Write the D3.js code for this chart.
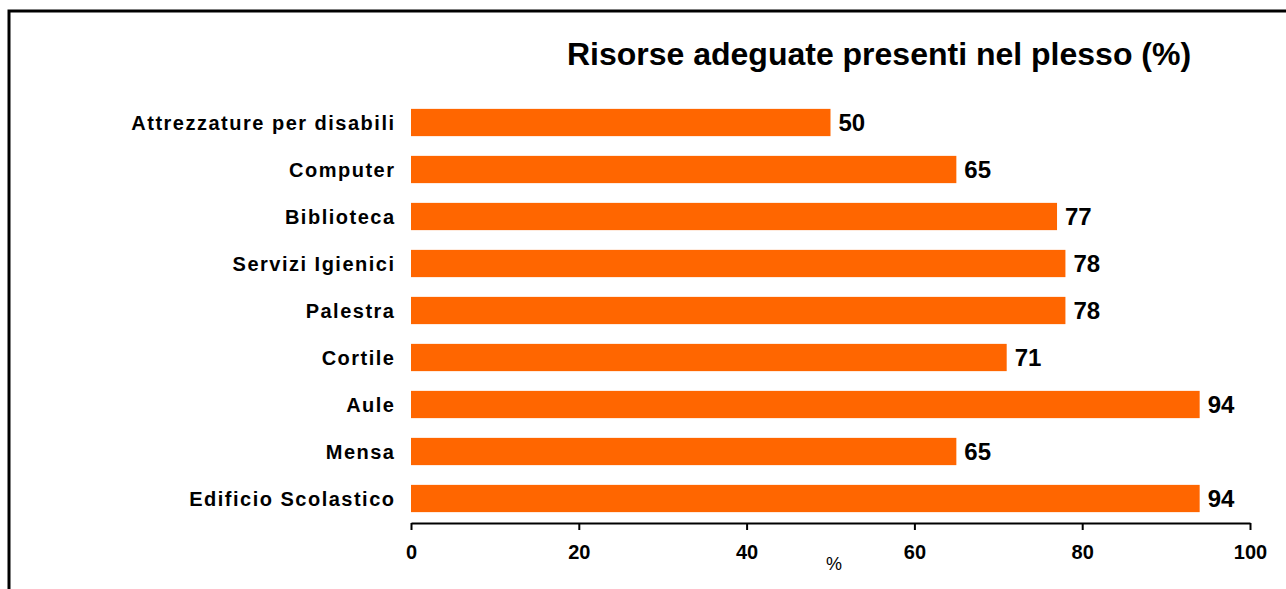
<!DOCTYPE html>
<html>
<head>
<meta charset="utf-8">
<script src="https://cdn.jsdelivr.net/npm/d3@7"></script>
<style>
  html, body { margin: 0; padding: 0; background: #fff; }
  svg { display: block; font-family: "Liberation Sans", Arial, sans-serif; }
</style>
</head>
<body>
<svg id="chart" width="1286" height="589"></svg>
<script>
// Resources rated adequate in the school building (%)
const categories = [
  "Attrezzature per disabili",
  "Computer",
  "Biblioteca",
  "Servizi Igienici",
  "Palestra",
  "Cortile",
  "Aule",
  "Mensa",
  "Edificio Scolastico"
];
const values = [50, 65, 77, 78, 78, 71, 94, 65, 94];
const tickValues = [0, 20, 40, 60, 80, 100];
const title = "Risorse adeguate presenti nel plesso (%)";
const axisTitle = "%";

const svg = d3.select("#chart");

// frame (open on the right and bottom)
svg.append("path")
  .attr("d", "M9,589 V11 H1286")
  .attr("fill", "none")
  .attr("stroke", "#000")
  .attr("stroke-width", 3);

const x = d3.scaleLinear().domain([0, 100]).range([411, 1250]);
const y = d3.scaleBand().domain(categories).range([99, 522]).paddingInner(0.42).paddingOuter(0.21);

const data = categories.map((c, i) => ({ c, v: values[i] }));

svg.append("text")
  .attr("x", 879).attr("y", 65)
  .attr("text-anchor", "middle")
  .attr("font-size", 32).attr("font-weight", "bold")
  .text(title);

svg.selectAll("rect.bar").data(data).join("rect")
  .attr("class", "bar")
  .attr("x", x(0))
  .attr("y", d => y(d.c))
  .attr("width", d => x(d.v) - x(0))
  .attr("height", y.bandwidth())
  .attr("fill", "#FF6600");

svg.selectAll("text.cat").data(data).join("text")
  .attr("class", "cat")
  .attr("x", 395.5)
  .attr("y", d => y(d.c) + y.bandwidth() / 2)
  .attr("dy", "0.36em")
  .attr("text-anchor", "end")
  .attr("font-size", 20).attr("font-weight", "bold")
  .attr("letter-spacing", 1.5)
  .text(d => d.c);

svg.selectAll("text.val").data(data).join("text")
  .attr("class", "val")
  .attr("x", d => x(d.v) + 8)
  .attr("y", d => y(d.c) + y.bandwidth() / 2)
  .attr("dy", "0.36em")
  .attr("font-size", 24).attr("font-weight", "bold")
  .text(d => d.v);

const axis = d3.axisBottom(x).tickValues(tickValues).tickSize(7).tickSizeOuter(0).tickPadding(15);
const gx = svg.append("g").attr("transform", "translate(0,523)").call(axis);
gx.select(".domain").attr("stroke", "#000").attr("stroke-width", 2);
gx.selectAll(".tick line").attr("stroke", "#000").attr("stroke-width", 2);
gx.selectAll(".tick text")
  .attr("font-family", "Liberation Sans, Arial, sans-serif")
  .attr("font-size", 20).attr("font-weight", "bold").attr("fill", "#000");

svg.append("text")
  .attr("x", 834).attr("y", 570)
  .attr("text-anchor", "middle")
  .attr("font-size", 18)
  .text(axisTitle);
</script>
</body>
</html>
